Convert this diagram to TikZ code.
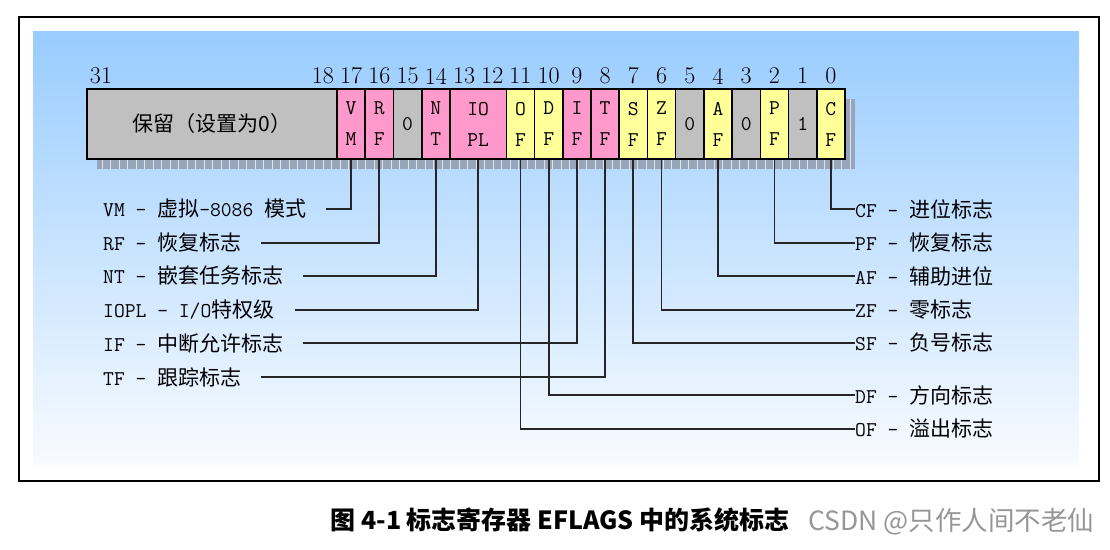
\documentclass[tikz,border=0pt]{standalone}
\usepackage{fontspec}
\usepackage{xcolor}
\usepackage{tikz}
\newfontfamily\cjk{Noto Sans CJK SC}
\definecolor{flagpink}{RGB}{255,153,204}
\definecolor{flagyel}{RGB}{255,255,153}
\definecolor{flaggray}{RGB}{192,192,192}
\definecolor{paneltop}{RGB}{153,204,255}
\definecolor{panelbot}{RGB}{248,251,255}
\definecolor{shadowgray}{RGB}{150,165,185}
\definecolor{wmgray}{RGB}{150,150,150}

\begin{document}
\begin{tikzpicture}[x=1pt, y=-1pt,
    cell/.style={draw, line width=1.6pt, minimum width=28.22pt, minimum height=70pt,
      inner sep=0pt, align=center, font=\ttfamily\fontsize{21}{31}\selectfont},
    bitnum/.style={font=\rmfamily\fontsize{24}{26}\selectfont, inner sep=0pt},
    lbl/.style={anchor=west, inner sep=0pt, font=\ttfamily\fontsize{21}{24}\selectfont},
    conn/.style={line width=1.8pt, black!85}]
    \useasboundingbox (0,0) rectangle (1110,549);
    % frame and panel
    \draw[line width=2.6pt] (19,17) rectangle (1099,481);
    \shade[top color=paneltop, bottom color=panelbot] (33,31) rectangle (1079,464);
    % shadow of the register
    \fill[shadowgray] (97,99) rectangle (855,169);
    \draw[step=8.5, white!70!shadowgray, line width=0.5pt] (97,99) grid (855,169);

    % register cells
    \node[cell, fill=flaggray, minimum width=250pt] (resv) at (212,124) {\cjk 保留（设置为0）};
    \foreach \b/\n/\t/\c in {0/cf/{C\\F}/flagyel, 1/bone/1/flaggray, 2/pf/{P\\F}/flagyel,
        3/bthree/0/flaggray, 4/af/{A\\F}/flagyel, 5/bfive/0/flaggray, 6/zf/{Z\\F}/flagyel,
        7/sf/{S\\F}/flagyel, 8/tf/{T\\F}/flagpink, 9/if/{I\\F}/flagpink, 10/df/{D\\F}/flagyel,
        11/of/{O\\F}/flagyel, 14/nt/{N\\T}/flagpink, 15/bfifteen/0/flaggray,
        16/rf/{R\\F}/flagpink, 17/vm/{V\\M}/flagpink}
      \node[cell, fill=\c] (\n) at ({845-(\b+0.5)*28.22},124) {\t};
    \node[cell, fill=flagpink, minimum width=56.44pt] (iopl) at ({845-13*28.22},124) {IO\\PL};

    % bit numbers
    \foreach \b in {0,...,18}
      \node[bitnum] (n\b) at ({845-(\b+0.5)*28.22},76) {\b};
    \node[bitnum] (nthirtyone) at (101,76) {31};

    % labels on the left
    \node[lbl] (lvm) at (103,209) {VM - {\cjk 虚拟}-8086 {\cjk 模式}};
    \node[lbl] (lrf) at (103,243) {RF - {\cjk 恢复标志}};
    \node[lbl] (lnt) at (103,276) {NT - {\cjk 嵌套任务标志}};
    \node[lbl] (liopl) at (103,310) {IOPL - I/O{\cjk 特权级}};
    \node[lbl] (lif) at (103,343) {IF - {\cjk 中断允许标志}};
    \node[lbl] (ltf) at (103,377) {TF - {\cjk 跟踪标志}};

    % labels on the right
    \node[lbl] (lcf) at (855,209) {CF - {\cjk 进位标志}};
    \node[lbl] (lpf) at (855,243) {PF - {\cjk 恢复标志}};
    \node[lbl] (laf) at (855,276) {AF - {\cjk 辅助进位}};
    \node[lbl] (lzf) at (855,310) {ZF - {\cjk 零标志}};
    \node[lbl] (lsf) at (855,343) {SF - {\cjk 负号标志}};
    \node[lbl] (ldf) at (855,395) {DF - {\cjk 方向标志}};
    \node[lbl] (lof) at (855,429) {OF - {\cjk 溢出标志}};

    % connectors
    \draw[conn] (vm.south) |- ([xshift=20pt]lvm.east);
    \draw[conn] (rf.south) |- ([xshift=20pt]lrf.east);
    \draw[conn] (nt.south) |- ([xshift=20pt]lnt.east);
    \draw[conn] (iopl.south) |- ([xshift=20pt]liopl.east);
    \draw[conn] (if.south) |- ([xshift=20pt]lif.east);
    \draw[conn] (tf.south) |- ([xshift=20pt]ltf.east);
    \draw[conn] (cf.south) |- (lcf.west);
    \draw[conn] (pf.south) |- (lpf.west);
    \draw[conn] (af.south) |- (laf.west);
    \draw[conn] (zf.south) |- (lzf.west);
    \draw[conn] (sf.south) |- (lsf.west);
    \draw[conn] (df.south) |- (ldf.west);
    \draw[conn] (of.south) |- (lof.west);

    % caption
    \node[font=\cjk\bfseries\fontsize{25}{29}\selectfont] (cap) at (560,520) {图 4-1 标志寄存器 EFLAGS 中的系统标志};
    \node[anchor=west, inner sep=0pt, text=wmgray, font=\cjk\fontsize{26.5}{30}\selectfont] (wm) at (808,522) {CSDN @只作人间不老仙};
\end{tikzpicture}
\end{document}
